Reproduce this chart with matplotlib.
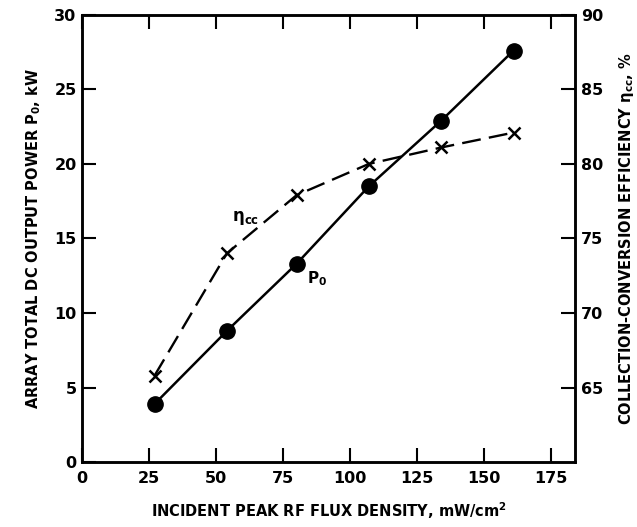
import numpy as np
import matplotlib.pyplot as plt

# incident peak RF flux density, mW/cm^2
flux = [27, 54, 80, 107, 134, 161]
# array total DC output power, kW
power = [3.9, 8.8, 13.3, 18.5, 22.9, 27.6]
# collection-conversion efficiency, %
eff = [65.8, 74.0, 77.9, 80.0, 81.1, 82.1]

x_ticks = [0, 25, 50, 75, 100, 125, 150, 175]
left_ticks = [0, 5, 10, 15, 20, 25, 30]
right_ticks = [65, 70, 75, 80, 85, 90]

plt.rcParams["font.family"] = "DejaVu Sans"
plt.rcParams["font.weight"] = "bold"

fig = plt.figure(figsize=(6.37, 5.27), dpi=100)
ax = fig.add_axes([0.129, 0.123, 0.774, 0.849])
ax2 = ax.twinx()

ax.plot(flux, power, color="black", lw=1.8, marker="o", ms=11, zorder=3)
ax2.plot(flux, eff, color="black", lw=1.7, ls=(0, (8, 3.5)), marker="x", ms=8, mew=1.8)

ax.set_xlim(0, 184)
ax.set_ylim(0, 30)
ax2.set_ylim(60, 90)

ax.set_xticks(x_ticks)
ax.set_yticks(left_ticks)
ax2.set_yticks(right_ticks)

ax.tick_params(axis="x", direction="in", length=10, width=1.5, top=True, labelsize=11.5, pad=6)
ax.tick_params(axis="y", direction="in", length=10, width=1.5, labelsize=11.5, pad=4)
ax2.tick_params(axis="y", direction="in", length=10, width=1.5, labelsize=11.5, pad=4)

for a in (ax, ax2):
    for s in a.spines.values():
        s.set_linewidth(1.8)

ax.set_xlabel("INCIDENT PEAK RF FLUX DENSITY, mW/cm$^2$", fontsize=10.5, fontweight="bold", labelpad=11)
ax.set_ylabel("ARRAY TOTAL DC OUTPUT POWER P$_0$, kW", fontsize=10.5, fontweight="bold", labelpad=8)
ax2.set_ylabel("COLLECTION-CONVERSION EFFICIENCY $\\mathregular{\\eta_{cc}}$, %", fontsize=10.5,
               fontweight="bold", labelpad=10)

ax.text(84, 12.3, "P$_0$", fontsize=11, fontweight="bold", va="center", ha="left")
ax2.text(56, 76.4, "$\\mathregular{\\eta_{cc}}$", fontsize=12, fontweight="bold", va="center", ha="left")

fig.savefig("out.png", dpi=100)
